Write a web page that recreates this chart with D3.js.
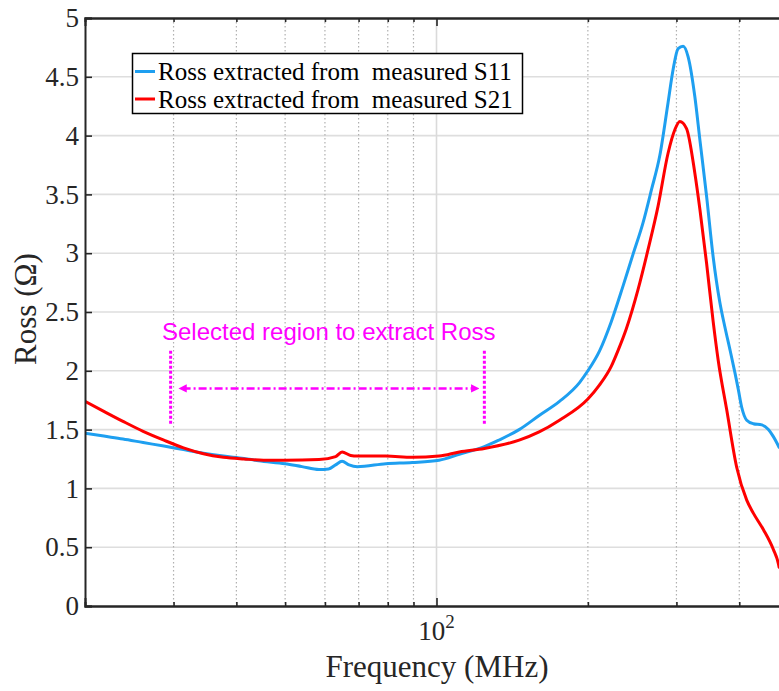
<!DOCTYPE html>
<html>
<head>
<meta charset="utf-8">
<script src="https://cdn.jsdelivr.net/npm/d3@7"></script>
<style>
  html, body { margin: 0; padding: 0; background: #fff; }
  svg { display: block; }
</style>
</head>
<body>
<svg id="chart" width="779" height="691"></svg>
<script>
// ---------- data ----------
const freqS11 = [20, 21.8, 23.8, 26.1, 28.7, 31.4, 34.4, 37.7, 41.4, 44.3, 50, 54, 58.4, 61, 63.0, 64.9, 67.0, 69.6, 79.3, 89.5, 101.2, 111, 124.5, 133, 146, 160, 175.6, 192.5, 200, 211, 222.7, 234.9, 245.9, 257.5, 267.6, 278, 288.7, 295.4, 302.3, 309.3, 316.5, 326.4, 334.1, 344.5, 354.9, 366, 374.6, 383.3, 392.3, 398.3, 404.5, 413.9, 426.6, 443.4, 457.1, 467.6, 480];
const rossS11 = [1.47, 1.445, 1.42, 1.39, 1.36, 1.33, 1.30, 1.275, 1.255, 1.235, 1.21, 1.185, 1.16, 1.165, 1.20, 1.23, 1.20, 1.185, 1.21, 1.22, 1.24, 1.29, 1.355, 1.41, 1.50, 1.62, 1.74, 1.90, 2.0, 2.17, 2.42, 2.72, 2.99, 3.26, 3.54, 3.83, 4.28, 4.56, 4.74, 4.76, 4.67, 4.33, 3.96, 3.48, 2.97, 2.58, 2.37, 2.18, 1.98, 1.84, 1.69, 1.58, 1.55, 1.54, 1.50, 1.44, 1.35];

const freqS21 = [20, 21.8, 23.8, 26.1, 28.7, 31.4, 34.4, 37.7, 41.4, 45.3, 50, 58.4, 63.0, 64.9, 67.5, 69.6, 79.3, 89.5, 101.2, 111, 124.5, 146, 160, 175.6, 200, 211, 222.7, 230, 238.6, 251.6, 263.4, 275.8, 288.7, 297.8, 304.7, 314.2, 326.4, 334.1, 344.5, 354.9, 363.2, 377.6, 395.3, 413.9, 426.6, 446.6, 467.6, 478.4, 480];
const rossS21 = [1.74, 1.655, 1.57, 1.485, 1.41, 1.345, 1.295, 1.265, 1.25, 1.24, 1.24, 1.245, 1.27, 1.31, 1.28, 1.275, 1.275, 1.265, 1.275, 1.31, 1.34, 1.41, 1.48, 1.58, 1.76, 1.88, 2.04, 2.18, 2.36, 2.69, 3.03, 3.40, 3.85, 4.05, 4.12, 4.06, 3.68, 3.37, 2.91, 2.42, 2.09, 1.67, 1.18, 0.90, 0.79, 0.65, 0.48, 0.36, 0.33];

const seriesNames = ["Ross extracted from  measured S11", "Ross extracted from  measured S21"];
const seriesColors = ["#1e9ff0", "#ff0000"];

const yTicks = [0, 0.5, 1, 1.5, 2, 2.5, 3, 3.5, 4, 4.5, 5];
const yTickLabels = ["0", "0.5", "1", "1.5", "2", "2.5", "3", "3.5", "4", "4.5", "5"];
const xMinorTicks = [30, 40, 50, 60, 70, 80, 90, 200, 300, 400];
const xMajorTicks = [100];

// annotation (data coordinates)
const regionStart = 29.6, regionEnd = 124.5;
const arrowStart = 30.7, arrowEnd = 121.6;
const markerLow = 1.55, markerHigh = 2.17, arrowLevel = 1.85;
const annotationText = "Selected region to extract Ross";

// ---------- layout ----------
const SERIF = "'Liberation Serif', 'Times New Roman', serif";
const svg = d3.select("#chart");
const L = 85, T = 18, B = 606, R = 788;
const x = d3.scaleLog().domain([20, 500]).range([L, R]);
const y = d3.scaleLinear().domain([0, 5]).range([B, T]);

const defs = svg.append("defs");
defs.append("clipPath").attr("id", "plotclip")
  .append("rect").attr("x", L).attr("y", T).attr("width", R - L).attr("height", B - T);

const mk = (id, path) => defs.append("marker").attr("id", id)
  .attr("viewBox", "0 0 10 10").attr("refX", 5).attr("refY", 5)
  .attr("markerWidth", 3.2).attr("markerHeight", 3.2).attr("orient", "auto")
  .append("path").attr("d", path).attr("fill", "#ff00ff");
mk("arrEnd", "M0,0 L10,5 L0,10 z");
mk("arrStart", "M10,0 L0,5 L10,10 z");

// ---------- grid ----------
const grid = svg.append("g");
grid.selectAll(".hg").data(yTicks.filter(v => v > 0 && v < 5)).enter().append("line")
  .attr("x1", L).attr("x2", R).attr("y1", d => y(d)).attr("y2", d => y(d))
  .attr("stroke", "#dedede").attr("stroke-width", 1.6);
grid.selectAll(".vg").data(xMinorTicks).enter().append("line")
  .attr("x1", d => x(d)).attr("x2", d => x(d)).attr("y1", T).attr("y2", B)
  .attr("stroke", "#b0b0b0").attr("stroke-width", 1.2).attr("stroke-dasharray", "1.5,2.5");
grid.selectAll(".vgM").data(xMajorTicks).enter().append("line")
  .attr("x1", d => x(d)).attr("x2", d => x(d)).attr("y1", T).attr("y2", B)
  .attr("stroke", "#dadada").attr("stroke-width", 1.6);

// ---------- curves ----------
const line = d3.line().x(d => x(d[0])).y(d => y(d[1])).curve(d3.curveMonotoneX);
const s11 = freqS11.map((f, i) => [f, rossS11[i]]);
const s21 = freqS21.map((f, i) => [f, rossS21[i]]);
const curves = svg.append("g").attr("clip-path", "url(#plotclip)");
[s11, s21].forEach((s, i) => {
  curves.append("path").attr("d", line(s)).attr("fill", "none")
    .attr("stroke", seriesColors[i]).attr("stroke-width", 3)
    .attr("stroke-linejoin", "round").attr("stroke-linecap", "round");
});

// ---------- axes ----------
const axisColor = "#262626";
const yAxis = svg.append("g").attr("transform", `translate(${L},0)`)
  .call(d3.axisLeft(y).tickValues(yTicks).tickFormat((d, i) => yTickLabels[i]).tickSize(-7).tickPadding(6));
const xAxisB = svg.append("g").attr("transform", `translate(0,${B})`)
  .call(d3.axisBottom(x).tickValues(xMinorTicks).tickFormat("").tickSize(-4));
const xAxisBM = svg.append("g").attr("transform", `translate(0,${B})`)
  .call(d3.axisBottom(x).tickValues(xMajorTicks).tickFormat("").tickSize(-8));
const xAxisT = svg.append("g").attr("transform", `translate(0,${T})`)
  .call(d3.axisTop(x).tickValues(xMinorTicks).tickFormat("").tickSize(-4));
const xAxisTM = svg.append("g").attr("transform", `translate(0,${T})`)
  .call(d3.axisTop(x).tickValues(xMajorTicks).tickFormat("").tickSize(-8));
[yAxis, xAxisB, xAxisBM, xAxisT, xAxisTM].forEach(g => {
  g.attr("font-family", null);
  g.select(".domain").attr("stroke", axisColor).attr("stroke-width", 2);
  g.selectAll(".tick line").attr("stroke", axisColor).attr("stroke-width", 1.6);
});
yAxis.selectAll(".tick text")
  .style("font-family", SERIF).style("font-size", "27px").attr("fill", axisColor);

// x major tick label 10^2
const xl = svg.append("text").attr("x", x(100)).attr("y", 640)
  .attr("text-anchor", "middle")
  .style("font-family", SERIF).style("font-size", "27px").attr("fill", axisColor);
xl.append("tspan").text("10");
xl.append("tspan").attr("dy", -12).style("font-size", "19px").text("2");

// axis titles
svg.append("text").attr("x", 437).attr("y", 677).attr("text-anchor", "middle")
  .style("font-family", SERIF).style("font-size", "31px").attr("fill", axisColor).text("Frequency (MHz)");
svg.append("text").attr("transform", "translate(36,309) rotate(-90)").attr("text-anchor", "middle")
  .style("font-family", SERIF).style("font-size", "31px").attr("fill", axisColor).text("Ross (Ω)");

// ---------- annotation ----------
const ann = svg.append("g");
[regionStart, regionEnd].forEach(f => {
  ann.append("line").attr("x1", x(f)).attr("x2", x(f)).attr("y1", y(markerHigh)).attr("y2", y(markerLow))
    .attr("stroke", "#ff00ff").attr("stroke-width", 3).attr("stroke-dasharray", "3,2");
});
ann.append("line").attr("x1", x(arrowStart) + 4).attr("x2", x(arrowEnd) - 4)
  .attr("y1", y(arrowLevel)).attr("y2", y(arrowLevel))
  .attr("stroke", "#ff00ff").attr("stroke-width", 2.6).attr("stroke-dasharray", "8,3,2,3")
  .attr("marker-start", "url(#arrStart)").attr("marker-end", "url(#arrEnd)");
ann.append("text").attr("x", 162).attr("y", 340)
  .style("font-family", "'Liberation Sans', Arial, sans-serif")
  .style("font-size", "24px").attr("fill", "#ff00ff").text(annotationText);

// ---------- legend ----------
const lg = svg.append("g");
lg.append("rect").attr("x", 132.5).attr("y", 53.5).attr("width", 390).attr("height", 60)
  .attr("fill", "#fff").attr("stroke", "#000").attr("stroke-width", 1.5);
seriesNames.forEach((name, i) => {
  const yy = 71.5 + i * 27.5;
  lg.append("line").attr("x1", 135).attr("x2", 155).attr("y1", yy).attr("y2", yy)
    .attr("stroke", seriesColors[i]).attr("stroke-width", 3);
  lg.append("text").attr("x", 158).attr("y", yy + 8.5)
    .style("white-space", "pre")
    .style("font-family", SERIF).style("font-size", "25px").attr("fill", "#000").text(name);
});
</script>
</body>
</html>
